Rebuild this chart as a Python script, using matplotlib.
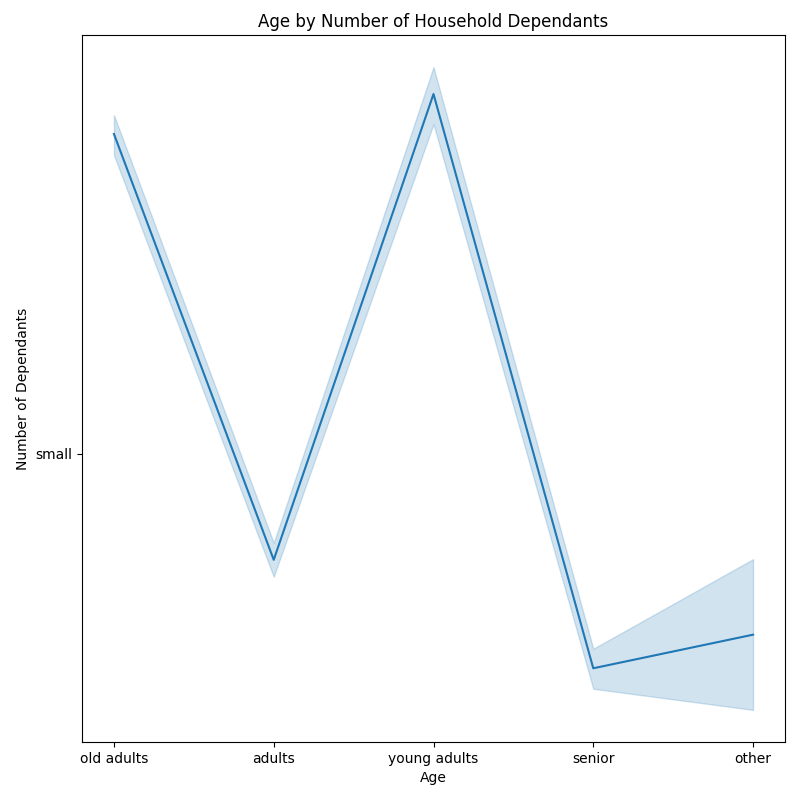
import matplotlib
matplotlib.use("Agg")
import matplotlib.pyplot as plt

# age groups along x, mean and confidence band of dependants score (small = 0)
ages = ["old adults", "adults", "young adults", "senior", "other"]
mean_vals = [1.000, -0.331, 1.125, -0.670, -0.565]
ci_low = [0.934, -0.384, 1.031, -0.734, -0.800]
ci_high = [1.059, -0.278, 1.209, -0.609, -0.329]

fig, ax = plt.subplots(figsize=(8, 8), dpi=100)
xs = list(range(len(ages)))
ax.plot(xs, mean_vals, color="#1f77b4", linewidth=1.5)
ax.fill_between(xs, ci_low, ci_high, color="#1f77b4", alpha=0.2)

ax.set_xticks(xs)
ax.set_xticklabels(ages)
ax.set_yticks([0])
ax.set_yticklabels(["small"])
ax.set_xlim(-0.2, 4.2)

ax.set_title("Age by Number of Household Dependants")
ax.set_xlabel("Age")
ax.set_ylabel("Number of Dependants")

fig.subplots_adjust(left=0.1025, right=0.98125, top=0.95625, bottom=0.0725)
fig.savefig("out.png")
